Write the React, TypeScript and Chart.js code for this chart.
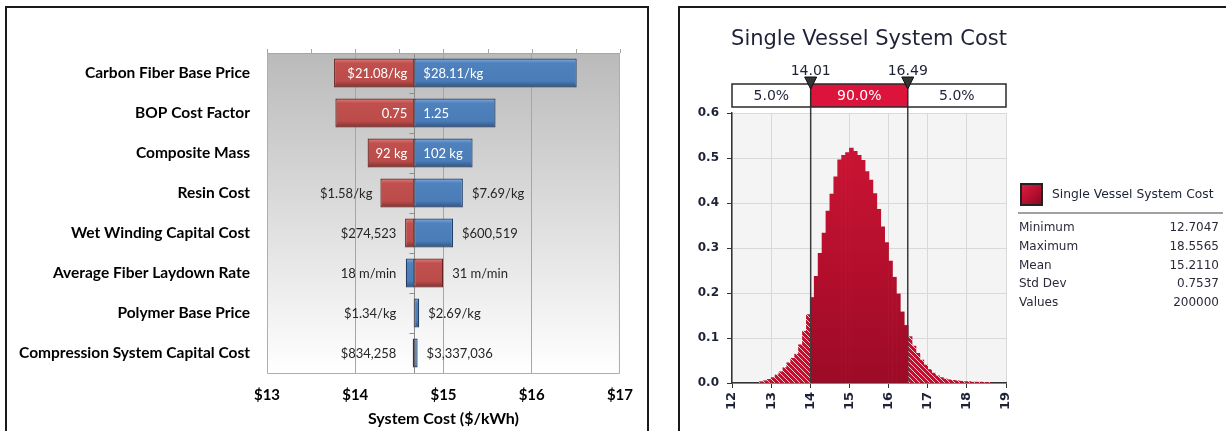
import React, { useEffect, useRef } from "react";
import { Chart, registerables } from "chart.js";

Chart.register(...registerables);

// ---------------- Tornado chart data ----------------
const tornadoCategories = [
  "Carbon Fiber Base Price",
  "BOP Cost Factor",
  "Composite Mass",
  "Resin Cost",
  "Wet Winding Capital Cost",
  "Average Fiber Laydown Rate",
  "Polymer Base Price",
  "Compression System Capital Cost",
];
const tornadoBase = 14.67;
const redEnds = [13.76, 13.775, 14.14, 14.285, 14.565, 14.997, 14.662, 14.651];
const blueEnds = [16.51, 15.59, 15.33, 15.22, 15.108, 14.573, 14.725, 14.707];
const redLabels = ["$21.08/kg", "0.75", "92 kg", "$1.58/kg", "$274,523", "31 m/min", "$1.34/kg", "$834,258"];
const blueLabels = ["$28.11/kg", "1.25", "102 kg", "$7.69/kg", "$600,519", "18 m/min", "$2.69/kg", "$3,337,036"];
const labelInside = [true, true, true, false, false, false, false, false];
const costMin = 13;
const costMax = 17;
const costTitle = "System Cost ($/kWh)";

// ---------------- Histogram data ----------------
const histTitle = "Single Vessel System Cost";
const histCenters = [
  12.75, 12.85, 12.95, 13.05, 13.15, 13.25, 13.35, 13.45, 13.55, 13.65, 13.75, 13.85, 13.95,
  14.05, 14.15, 14.25, 14.35, 14.45, 14.55, 14.65, 14.75, 14.85, 14.95, 15.05, 15.15, 15.25,
  15.35, 15.45, 15.55, 15.65, 15.75, 15.85, 15.95, 16.05, 16.15, 16.25, 16.35, 16.45,
  16.55, 16.65, 16.75, 16.85, 16.95, 17.05, 17.15, 17.25, 17.35, 17.45, 17.55, 17.65, 17.75,
  17.85, 17.95, 18.05, 18.15, 18.25, 18.35, 18.45, 18.55,
];
const histDensity = [
  0.003, 0.005, 0.008, 0.012, 0.018, 0.025, 0.034, 0.045, 0.055, 0.064, 0.085, 0.115, 0.152,
  0.19, 0.237, 0.288, 0.333, 0.382, 0.42, 0.458, 0.496, 0.506, 0.512, 0.522, 0.515, 0.506,
  0.495, 0.47, 0.451, 0.421, 0.386, 0.347, 0.312, 0.271, 0.235, 0.198, 0.158, 0.128,
  0.103, 0.082, 0.066, 0.051, 0.04, 0.03, 0.022, 0.016, 0.012, 0.009, 0.007, 0.006, 0.005,
  0.004, 0.003, 0.003, 0.002, 0.002, 0.002, 0.001, 0.001,
];
const percentileMarks = [14.01, 16.49];
const percentileShares = ["5.0%", "90.0%", "5.0%"];
const histXMin = 12;
const histXMax = 19;
const histYMax = 0.6;
const statNames = ["Minimum", "Maximum", "Mean", "Std Dev", "Values"];
const statValues = ["12.7047", "18.5565", "15.2110", "0.7537", "200000"];

const LEFT_FONT = "Lato, 'Open Sans', sans-serif";
const RIGHT_FONT = "'DejaVu Sans', Verdana, sans-serif";
const NAVY = "#1e2236";

const redStops: [number, string][] = [[0, "#de7f7c"], [0.16, "#c0504d"], [0.78, "#bb4c49"], [1, "#823030"]];
const blueStops: [number, string][] = [[0, "#82a9de"], [0.16, "#4f81bd"], [0.78, "#4a7cb8"], [1, "#30547f"]];

const mkFill = (stops: [number, string][], fallback: string) => (c: any) => {
  const chart = c.chart;
  const ys = chart.scales && chart.scales.y;
  if (!ys || c.dataIndex === undefined || !chart.chartArea) return fallback;
  const cy = ys.getPixelForValue(c.dataIndex);
  const h = (ys.height / tornadoCategories.length) * 0.72;
  const g = chart.ctx.createLinearGradient(0, cy - h / 2, 0, cy + h / 2);
  stops.forEach(([o, col]) => g.addColorStop(o, col));
  return g;
};

const tornadoDecor = {
  id: "tornadoDecor",
  beforeDraw(chart: any) {
    const { ctx, chartArea: a } = chart;
    const g = ctx.createLinearGradient(0, a.top, 0, a.bottom);
    g.addColorStop(0, "#bababa");
    g.addColorStop(1, "#ffffff");
    ctx.save();
    ctx.fillStyle = g;
    ctx.fillRect(a.left, a.top, a.right - a.left, a.bottom - a.top);
    ctx.restore();
  },
  beforeDatasetsDraw(chart: any) {
    const { ctx, chartArea: a, scales } = chart;
    const x = scales.x;
    const bx = Math.round(x.getPixelForValue(tornadoBase)) + 0.5;
    ctx.save();
    ctx.strokeStyle = "#8c8c8c";
    ctx.lineWidth = 1;
    ctx.beginPath();
    ctx.moveTo(bx, a.top);
    ctx.lineTo(bx, a.bottom);
    const n = tornadoCategories.length;
    const step = (a.bottom - a.top) / n;
    for (let i = 1; i < n; i++) {
      const yy = Math.round(a.top + i * step) + 0.5;
      ctx.moveTo(bx - 5, yy);
      ctx.lineTo(bx, yy);
    }
    ctx.stroke();
    ctx.restore();
  },
  afterDraw(chart: any) {
    const { ctx, chartArea: a, scales } = chart;
    const x = scales.x;
    const y = scales.y;
    ctx.save();
    // plot border
    ctx.lineWidth = 1;
    ctx.strokeStyle = "#95b3d7";
    ctx.beginPath();
    ctx.moveTo(a.left + 0.5, a.top);
    ctx.lineTo(a.left + 0.5, a.bottom + 0.5);
    ctx.lineTo(a.right - 0.5, a.bottom + 0.5);
    ctx.lineTo(a.right - 0.5, a.top);
    ctx.stroke();
    // top axis line with ticks
    ctx.strokeStyle = "#a6a6a6";
    ctx.beginPath();
    ctx.moveTo(a.left, a.top + 0.5);
    ctx.lineTo(a.right, a.top + 0.5);
    for (let v = costMin; v <= costMax + 1e-9; v += 0.5) {
      const px = Math.round(x.getPixelForValue(v)) + 0.5;
      ctx.moveTo(px, a.top - 4);
      ctx.lineTo(px, a.top);
    }
    ctx.stroke();
    // data labels
    const c = x.getPixelForValue(tornadoBase);
    ctx.font = `13px ${LEFT_FONT}`;
    ctx.textBaseline = "middle";
    tornadoCategories.forEach((_, i) => {
      const r = x.getPixelForValue(redEnds[i]);
      const b = x.getPixelForValue(blueEnds[i]);
      const redLeft = redEnds[i] <= tornadoBase;
      const leftText = redLeft ? redLabels[i] : blueLabels[i];
      const rightText = redLeft ? blueLabels[i] : redLabels[i];
      const leftEnd = Math.min(r, b);
      const rightEnd = Math.max(r, b);
      const cy = y.getPixelForValue(i) + 1;
      if (labelInside[i]) {
        ctx.fillStyle = "#ffffff";
        ctx.textAlign = "right";
        ctx.fillText(leftText, c - 7, cy);
        ctx.textAlign = "left";
        ctx.fillText(rightText, c + 9, cy);
      } else {
        ctx.fillStyle = "#262626";
        ctx.textAlign = "right";
        ctx.fillText(leftText, Math.min(leftEnd - 8, c - 18), cy);
        ctx.textAlign = "left";
        ctx.fillText(rightText, Math.max(rightEnd + 9, c + 10), cy);
      }
    });
    ctx.restore();
  },
};

let hatchCache: CanvasPattern | null = null;
function hatchPattern(ctx: CanvasRenderingContext2D) {
  if (hatchCache) return hatchCache;
  const P = 5;
  const cv = document.createElement("canvas");
  cv.width = P;
  cv.height = P;
  const g = cv.getContext("2d")!;
  g.fillStyle = "#c0102e";
  g.fillRect(0, 0, P, P);
  g.strokeStyle = "rgba(255,255,255,0.8)";
  g.lineWidth = 1;
  g.beginPath();
  g.moveTo(-1, -1);
  g.lineTo(P + 1, P + 1);
  g.moveTo(-1, P - 1);
  g.lineTo(1, P + 1);
  g.moveTo(P - 1, -1);
  g.lineTo(P + 1, 1);
  g.stroke();
  hatchCache = ctx.createPattern(cv, "repeat");
  return hatchCache;
}

const histFill = (c: any) => {
  const chart = c.chart;
  const a = chart.chartArea;
  const v = histCenters[c.dataIndex];
  if (v !== undefined && (v < percentileMarks[0] || v > percentileMarks[1])) {
    return hatchPattern(chart.ctx) || "#c0102e";
  }
  if (!a) return "#b80f2e";
  const g = chart.ctx.createLinearGradient(0, a.top, 0, a.bottom);
  g.addColorStop(0, "#d11636");
  g.addColorStop(0.6, "#b20e2c");
  g.addColorStop(1, "#9c0b26");
  return g;
};

const histDecor = {
  id: "histDecor",
  beforeDraw(chart: any) {
    const { ctx, chartArea: a } = chart;
    ctx.save();
    ctx.fillStyle = "#f4f4f4";
    ctx.fillRect(a.left, a.top, a.right - a.left, a.bottom - a.top);
    ctx.restore();
  },
  afterDatasetsDraw(chart: any) {
    const { ctx, chartArea: a, scales } = chart;
    const x = scales.x;
    const xs = percentileMarks.map((v) => x.getPixelForValue(v));
    const left = x.getPixelForValue(histXMin);
    const right = x.getPixelForValue(histXMax);
    const boxTop = 75;
    const boxBottom = 98;
    ctx.save();
    // vertical percentile lines
    ctx.strokeStyle = "#3c3c3c";
    ctx.lineWidth = 1.5;
    ctx.beginPath();
    xs.forEach((px) => {
      ctx.moveTo(px, boxBottom);
      ctx.lineTo(px, a.bottom);
    });
    ctx.stroke();
    // percentile box
    ctx.fillStyle = "#ffffff";
    ctx.fillRect(left, boxTop, right - left, boxBottom - boxTop);
    ctx.fillStyle = "#dc143c";
    ctx.fillRect(xs[0], boxTop, xs[1] - xs[0], boxBottom - boxTop);
    ctx.strokeStyle = "#2a2a2a";
    ctx.lineWidth = 1.5;
    ctx.strokeRect(left, boxTop, right - left, boxBottom - boxTop);
    ctx.beginPath();
    xs.forEach((px) => {
      ctx.moveTo(px, boxTop);
      ctx.lineTo(px, boxBottom);
    });
    ctx.stroke();
    ctx.font = `14px ${RIGHT_FONT}`;
    ctx.textAlign = "center";
    ctx.textBaseline = "middle";
    const cells = [left, xs[0], xs[1], right];
    percentileShares.forEach((t, i) => {
      ctx.fillStyle = i === 1 ? "#ffffff" : NAVY;
      ctx.fillText(t, (cells[i] + cells[i + 1]) / 2, (boxTop + boxBottom) / 2 + 1);
    });
    // markers + labels
    ctx.textBaseline = "alphabetic";
    percentileMarks.forEach((v, i) => {
      const px = xs[i];
      ctx.fillStyle = NAVY;
      ctx.fillText(v.toFixed(2), px, 66);
      ctx.beginPath();
      ctx.moveTo(px - 6, 68);
      ctx.lineTo(px + 6, 68);
      ctx.lineTo(px, 80);
      ctx.closePath();
      ctx.fillStyle = "#333333";
      ctx.fill();
      ctx.strokeStyle = "#111111";
      ctx.lineWidth = 1;
      ctx.stroke();
    });
    // title
    ctx.fillStyle = NAVY;
    ctx.font = `21px ${RIGHT_FONT}`;
    ctx.fillText(histTitle, (a.left + a.right) / 2, 36);
    ctx.restore();
  },
};

export default function App() {
  const leftRef = useRef<HTMLCanvasElement>(null);
  const rightRef = useRef<HTMLCanvasElement>(null);

  useEffect(() => {
    const lc = new Chart(leftRef.current!, {
      type: "bar",
      data: {
        labels: tornadoCategories,
        datasets: [
          {
            label: "Low",
            data: redEnds.map((v) => [tornadoBase, v]) as any,
            backgroundColor: mkFill(redStops, "#c0504d") as any,
            borderColor: "#632220",
            borderWidth: 1.2,
            borderSkipped: false,
            grouped: false,
            barPercentage: 0.72,
            categoryPercentage: 1,
          } as any,
          {
            label: "High",
            data: blueEnds.map((v) => [tornadoBase, v]) as any,
            backgroundColor: mkFill(blueStops, "#4f81bd") as any,
            borderColor: "#223e63",
            borderWidth: 1.2,
            borderSkipped: false,
            grouped: false,
            barPercentage: 0.72,
            categoryPercentage: 1,
          } as any,
        ],
      },
      options: {
        indexAxis: "y",
        responsive: false,
        animation: false,
        devicePixelRatio: 1,
        layout: { padding: { top: 44, right: 19, left: 0, bottom: 0 } },
        plugins: { legend: { display: false }, tooltip: { enabled: false } },
        scales: {
          x: {
            type: "linear",
            min: costMin,
            max: costMax,
            position: "bottom",
            grid: { color: "#a6a6a6", drawTicks: false, lineWidth: 1 },
            border: { display: false },
            ticks: {
              stepSize: 1,
              padding: 13,
              color: "#000",
              font: { family: LEFT_FONT, size: 15, weight: "bold" },
              callback: (v: any) => "$" + v,
            },
            title: {
              display: true,
              text: costTitle,
              color: "#000",
              font: { family: LEFT_FONT, size: 16, weight: "bold" },
              padding: { top: 0, bottom: 1 },
            },
            afterFit: (s: any) => {
              s.height = 56;
            },
          },
          y: {
            type: "category",
            grid: { display: false, drawTicks: false },
            border: { display: false },
            ticks: {
              padding: 17,
              color: "#000",
              font: { family: LEFT_FONT, size: 15.5, weight: "bold" },
            },
            afterFit: (s: any) => {
              s.width = 259;
            },
          },
        },
      } as any,
      plugins: [tornadoDecor],
    });

    const rc = new Chart(rightRef.current!, {
      type: "bar",
      data: {
        datasets: [
          {
            label: histTitle,
            data: histCenters.map((c, i) => ({ x: c, y: histDensity[i] })),
            backgroundColor: histFill as any,
            borderWidth: 0,
            barPercentage: 1,
            categoryPercentage: 1,
          } as any,
        ],
      },
      options: {
        responsive: false,
        animation: false,
        devicePixelRatio: 1,
        layout: { padding: { top: 104, right: 220, left: 0, bottom: 0 } },
        plugins: { legend: { display: false }, tooltip: { enabled: false } },
        scales: {
          x: {
            type: "linear",
            min: histXMin,
            max: histXMax,
            offset: false,
            grid: { offset: false, color: "#d9d9d9", tickColor: "#333", tickLength: 5 },
            border: { color: "#333", width: 1.5 },
            ticks: {
              stepSize: 1,
              autoSkip: false,
              minRotation: 90,
              maxRotation: 90,
              padding: 4,
              color: NAVY,
              font: { family: RIGHT_FONT, size: 13, weight: "bold" },
              callback: (v: any) => String(v),
            },
            afterFit: (s: any) => {
              s.height = 48;
            },
          },
          y: {
            min: 0,
            max: histYMax,
            grid: { color: "#d9d9d9", tickColor: "#333", tickLength: 5 },
            border: { color: "#333", width: 1.5 },
            ticks: {
              stepSize: 0.1,
              padding: 8,
              color: NAVY,
              font: { family: RIGHT_FONT, size: 12, weight: "bold" },
              callback: (v: any) => Number(v).toFixed(1),
            },
            afterFit: (s: any) => {
              s.width = 51;
            },
          },
        },
      } as any,
      plugins: [histDecor],
    });

    return () => {
      lc.destroy();
      rc.destroy();
    };
  }, []);

  const panelBorder = "2px solid #1a1a1a";
  return (
    <div
      style={{
        position: "fixed",
        left: 0,
        top: 0,
        width: 1226,
        height: 431,
        background: "#fff",
        overflow: "hidden",
        fontFamily: RIGHT_FONT,
      }}
    >
      <div style={{ position: "absolute", left: 5, top: 6, width: 644, height: 460, border: panelBorder, boxSizing: "border-box" }} />
      <div style={{ position: "absolute", left: 678, top: 6, width: 600, height: 460, border: panelBorder, boxSizing: "border-box" }} />
      <canvas ref={leftRef} width={638} height={420} style={{ position: "absolute", left: 8, top: 9, width: 638, height: 420 }} />
      <canvas ref={rightRef} width={545} height={422} style={{ position: "absolute", left: 681, top: 9, width: 545, height: 422 }} />
      {/* legend */}
      <div
        style={{
          position: "absolute",
          left: 1020,
          top: 183,
          width: 23,
          height: 23,
          border: "2px solid #222",
          boxSizing: "border-box",
          background: "linear-gradient(135deg, #dc1c44 0%, #b50f2e 55%, #8a0a22 100%)",
        }}
      />
      <div style={{ position: "absolute", left: 1052, top: 186, fontSize: 12.3, lineHeight: "16px", color: NAVY, whiteSpace: "nowrap" }}>
        {histTitle}
      </div>
      <div style={{ position: "absolute", left: 1018, top: 212, width: 205, height: 2, background: "#a0a0a0" }} />
      {statNames.map((n, i) => (
        <div
          key={n}
          style={{
            position: "absolute",
            left: 1019,
            top: 219 + i * 18.75,
            width: 200,
            height: 16,
            fontSize: 12,
            lineHeight: "16px",
            color: "#2a2a3a",
            whiteSpace: "nowrap",
          }}
        >
          <span style={{ position: "absolute", left: 0 }}>{n}</span>
          <span style={{ position: "absolute", right: 0 }}>{statValues[i]}</span>
        </div>
      ))}
    </div>
  );
}
